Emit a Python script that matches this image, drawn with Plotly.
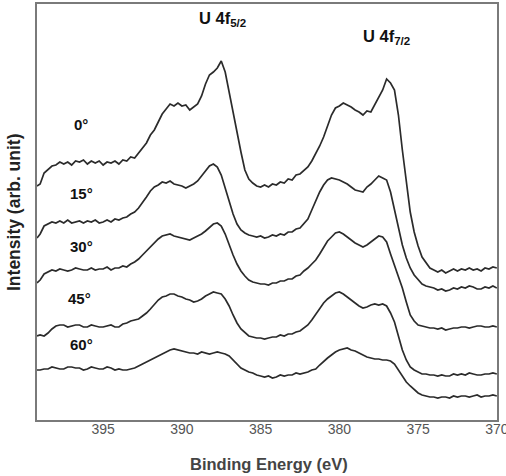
import plotly.graph_objects as go

# Binding energy grid (eV): 399.2, then 399.0 down to 370.0 in 0.25 eV steps
energy = [399.2] + [round(399.0 - 0.25 * i, 2) for i in range(117)]

# Offset intensities (arb. unit), one row per eV
int_0 = [234,
         236, 247, 251, 254,  255, 258, 256, 258,  255, 259, 258, 260,
         256, 259, 257, 259,  255, 258, 257, 259,  256, 260, 259, 263,
         262, 267, 272, 277,  285, 290, 298, 306,  311, 316, 314, 317,
         314, 315, 310, 313,  316, 324, 336, 345,  348, 352, 359, 348,
         327, 308, 288, 268,  250, 241, 237, 234,  233, 235, 233, 236,
         235, 238, 237, 241,  240, 245, 246, 250,  253, 259, 266, 274,
         283, 294, 305, 312,  314, 317, 315, 313,  310, 308, 305, 309,
         308, 315, 322, 330,  341, 337, 330, 305,  270, 238, 208, 188,
         174, 163, 158, 152,  150, 148, 150, 147,  149, 151, 149, 151,
         150, 152, 150, 151,  149, 152, 151, 153,  152]
int_15 = [182,
          186, 194, 196, 198,  197, 199, 197, 200,  197, 198, 199, 197,
          199, 198, 200, 197,  198, 200, 198, 201,  200, 202, 203, 206,
          208, 212, 217, 223,  229, 233, 235, 238,  237, 239, 236, 235,
          234, 232, 234, 236,  239, 244, 250, 254,  256, 253, 245, 232,
          218, 206, 196, 190,  187, 185, 184, 183,  184, 182, 183, 185,
          184, 186, 185, 188,  188, 191, 192, 197,  201, 210, 220, 228,
          235, 240, 242, 241,  240, 238, 236, 233,  230, 229, 228, 233,
          236, 240, 244, 242,  240, 228, 210, 192,  175, 162, 152, 145,
          140, 136, 134, 133,  132, 130, 131, 129,  130, 132, 131, 133,
          132, 134, 133, 131,  131, 133, 132, 134,  132]
int_30 = [137,
          140, 146, 148, 150,  149, 151, 150, 149,  150, 152, 151, 150,
          150, 152, 150, 151,  151, 153, 150, 152,  152, 154, 153, 156,
          158, 161, 165, 169,  173, 178, 181, 184,  185, 186, 184, 183,
          182, 181, 180, 182,  184, 186, 189, 193,  196, 197, 194, 186,
          175, 165, 156, 149,  144, 140, 138, 137,  136, 136, 135, 137,
          137, 139, 139, 141,  141, 144, 145, 149,  152, 156, 160, 166,
          173, 179, 183, 187,  188, 186, 183, 180,  177, 175, 173, 175,
          178, 181, 184, 183,  178, 166, 155, 143,  132, 118, 105, 99,
          95, 94, 93, 92,  92, 91, 92, 90,  91, 92, 92, 93,
          93, 92, 93, 94,  94, 93, 93, 94,  93]
int_45 = [84,
          85, 84, 87, 91,  94, 95, 95, 93,  94, 95, 95, 93,
          93, 95, 94, 93,  93, 94, 95, 93,  93, 96, 97, 99,
          100, 101, 104, 107,  111, 116, 120, 123,  124, 126, 126, 124,
          123, 121, 120, 118,  119, 121, 124, 126,  128, 127, 126, 121,
          114, 105, 97, 91,  87, 84, 83, 82,  82, 81, 82, 83,
          83, 85, 84, 86,  86, 88, 89, 92,  95, 100, 106, 112,
          117, 121, 124, 127,  128, 126, 123, 120,  117, 114, 112, 113,
          115, 116, 115, 116,  114, 107, 98, 84,  70, 60, 53, 50,
          48, 46, 46, 45,  45, 44, 45, 44,  44, 46, 45, 46,
          45, 47, 46, 45,  45, 46, 46, 47,  46]
int_60 = [50,
          50, 51, 51, 53,  52, 51, 51, 53,  53, 52, 52, 50,
          51, 53, 52, 51,  51, 53, 52, 50,  51, 50, 50, 51,
          52, 54, 56, 58,  60, 62, 64, 66,  68, 70, 71, 70,
          69, 68, 67, 67,  66, 68, 67, 66,  67, 68, 67, 66,
          64, 60, 56, 52,  50, 48, 47, 45,  44, 43, 44, 42,
          43, 45, 44, 45,  45, 47, 46, 47,  48, 50, 51, 55,
          59, 62, 65, 68,  70, 71, 72, 70,  69, 67, 65, 63,
          62, 61, 61, 60,  60, 59, 56, 50,  44, 38, 34, 30,
          27, 25, 24, 23,  23, 22, 23, 23,  22, 24, 23, 24,
          24, 23, 24, 25,  23, 24, 24, 25,  24]

series_names = ["0°", "15°", "30°", "45°", "60°"]
series_vals = [int_0, int_15, int_30, int_45, int_60]

# Angle label positions (eV, intensity)
label_x = [396.4, 396.4, 396.4, 396.5, 396.4]
label_y = [296, 227, 174, 122, 76]

x_ticks = [395, 390, 385, 380, 375, 370]

FONT = "Arial, Liberation Sans, sans-serif"
fig = go.Figure()
for name, ys in zip(series_names, series_vals):
    fig.add_trace(go.Scatter(x=energy, y=ys, mode="lines", name=name,
                             line=dict(color="#2b2b2b", width=1.7), showlegend=False))

for name, lx, ly in zip(series_names, label_x, label_y):
    fig.add_annotation(x=lx, y=ly, text=f"<b>{name}</b>", showarrow=False,
                       font=dict(family=FONT, size=15, color="#111111"),
                       xanchor="center", yanchor="middle")

fig.add_annotation(x=389.05, y=413, text="<b>U 4f<sub>5/2</sub></b>", showarrow=False,
                   font=dict(family=FONT, size=16.5, color="#111111"),
                   xanchor="left", yanchor="top")
fig.add_annotation(x=378.6, y=395, text="<b>U 4f<sub>7/2</sub></b>", showarrow=False,
                   font=dict(family=FONT, size=16.5, color="#111111"),
                   xanchor="left", yanchor="top")

fig.add_annotation(xref="paper", yref="paper", x=0.505, y=-0.105,
                   text="<b>Binding Energy (eV)</b>", showarrow=False,
                   font=dict(family=FONT, size=16.5, color="#444444"),
                   xanchor="center", yanchor="middle")
fig.add_annotation(xref="paper", yref="paper", x=-0.05, y=0.5,
                   text="<b>Intensity (arb. unit)</b>", showarrow=False, textangle=-90,
                   font=dict(family=FONT, size=17.5, color="#222222"),
                   xanchor="center", yanchor="middle")

fig.update_xaxes(range=[399.2, 369.99], tickvals=x_ticks, ticktext=[str(t) for t in x_ticks],
                 ticks="", showgrid=False, zeroline=False, automargin=False,
                 showline=True, mirror=True, linecolor="#7a7a7a", linewidth=1.5,
                 tickfont=dict(family=FONT, size=14, color="#555555"))
try:
    fig.update_xaxes(ticklabelstandoff=-5)
except Exception:
    pass
try:
    fig.update_xaxes(ticklabeloverflow="allow")
except Exception:
    pass
fig.update_yaxes(range=[0, 416], showticklabels=False, ticks="", showgrid=False, zeroline=False,
                 automargin=False,
                 showline=True, mirror=True, linecolor="#7a7a7a", linewidth=1.5)

fig.update_layout(width=506, height=476, margin=dict(l=37, r=9, t=4, b=56, autoexpand=False),
                  plot_bgcolor="white", paper_bgcolor="white")

fig.write_html("out.html")
